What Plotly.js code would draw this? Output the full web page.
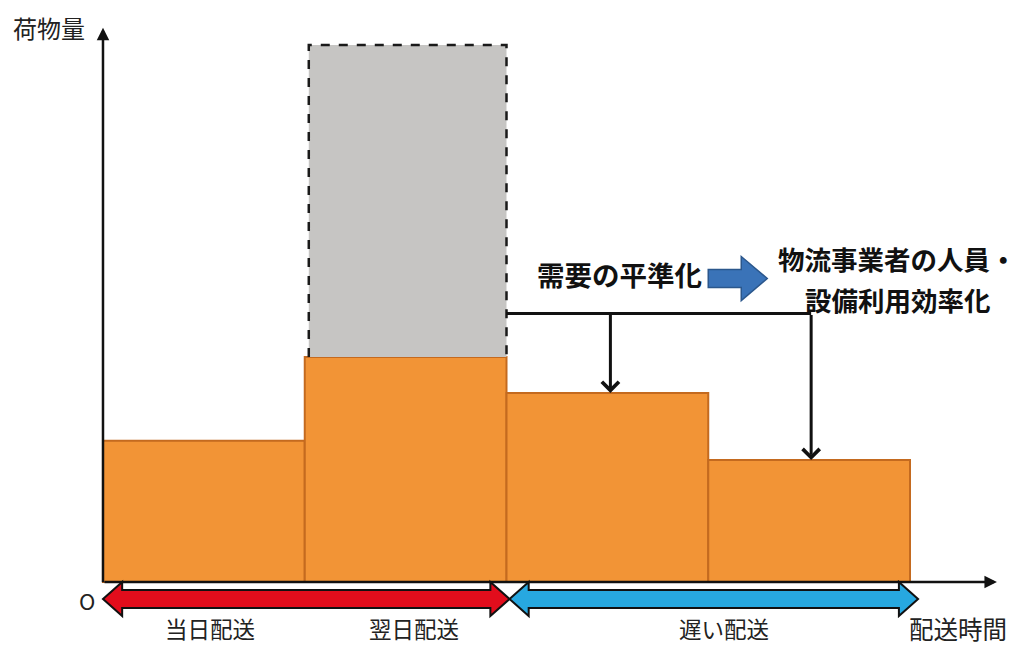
<!DOCTYPE html>
<html>
<head>
<meta charset="utf-8">
<script src="https://cdn.plot.ly/plotly-3.0.1.min.js"></script>
<style>html,body{margin:0;padding:0;background:#fff;}#chart{width:1018px;height:647px;}</style>
</head>
<body>
<div id="chart"></div>
<script>
// ---- data ----
const slotIndex = [0, 1, 2, 3];                 // delivery-time slots
const loadSmoothed = [26.3, 41.9, 35.2, 22.7];  // 荷物量 (after smoothing)
const peakSlot = 1;                             // 翌日配送 peak slot
const peakBefore = 100;                         // 荷物量 before smoothing
const smoothLevel = 50;                         // level of the smoothing bracket
const groupLabels = ['当日配送', '翌日配送', '遅い配送'];
const groupSpans = [[0, 1], [1, 2], [2, 4]];    // slots covered by each label
const yTitle = '荷物量';
const xTitle = '配送時間';
const originLabel = 'O';
const effectLabel = '需要の平準化';
const resultLines = ['物流事業者の人員・', '設備利用効率化'];

// ---- scales ----
const xRange = [-0.5105, 4.5353];
const yRange = [-12.10, 108.38];
const FONT = '"Noto Sans CJK JP", "Noto Sans", sans-serif';

const barTrace = {
  type: 'bar',
  x: slotIndex.map(i => i + 0.5),
  y: loadSmoothed,
  width: slotIndex.map(() => 1),
  marker: {color: '#F29436', line: {color: '#C46A1F', width: 2}},
  hoverinfo: 'y'
};

const px0 = peakSlot + 0.02, px1 = peakSlot + 1;
const base = loadSmoothed[peakSlot];
const peakTrace = {
  type: 'scatter', mode: 'lines',
  x: [px0, px0, px1, px1],
  y: [base, peakBefore, peakBefore, base],
  fill: 'toself', fillcolor: '#C6C5C3',
  line: {color: '#1a1a1a', width: 2.5, dash: 'dash'},
  hoverinfo: 'skip'
};

function doubleArrow(x0, x1, color) {
  const h = 0.095; // head length (x units)
  const c = -17, bh = 9, hh = 17;
  const p = `M ${x0},${c} L ${x0 + h},${c + hh} L ${x0 + h},${c + bh} L ${x1 - h},${c + bh} L ${x1 - h},${c + hh} L ${x1},${c} L ${x1 - h},${c - hh} L ${x1 - h},${c - bh} L ${x0 + h},${c - bh} L ${x0 + h},${c - hh} Z`;
  return {type: 'path', xref: 'x', yref: 'y', ysizemode: 'pixel', yanchor: 0,
    path: p, fillcolor: color, line: {color: '#111', width: 2}, layer: 'above'};
}

const shapes = [
  doubleArrow(groupSpans[0][0], groupSpans[1][1] + 0.015, '#E20D1C'),
  doubleArrow(groupSpans[2][0] + 0.015, groupSpans[2][1] + 0.04, '#27A8E0'),
  // bracket line
  {type: 'line', xref: 'x', yref: 'y', x0: px1, x1: 3.5 + 0.01, y0: smoothLevel, y1: smoothLevel,
   line: {color: '#111', width: 3}},
  // blue block arrow
  {type: 'path', xref: 'x', yref: 'y', xsizemode: 'pixel', ysizemode: 'pixel', xanchor: 3.0, yanchor: smoothLevel,
   path: 'M 0,44 L 33,44 L 33,57 L 59,35 L 33,13 L 33,26 L 0,26 Z',
   fillcolor: '#3A73B8', line: {color: '#2B578C', width: 1.5}}
];

const annotations = [
  // axes
  {x: 0, y: 103.2, ax: 0, ay: -0.3, axref: 'x', ayref: 'y', xref: 'x', yref: 'y', text: '',
   showarrow: true, arrowhead: 2, arrowsize: 1, arrowwidth: 2.5, arrowcolor: '#111', standoff: 0},
  {x: 4.431, y: 0, ax: 0, ay: 0, axref: 'x', ayref: 'y', xref: 'x', yref: 'y', text: '',
   showarrow: true, arrowhead: 2, arrowsize: 1, arrowwidth: 2.5, arrowcolor: '#111', standoff: 0},
  // smoothing arrows
  {x: 2.515, y: loadSmoothed[2], ax: 2.515, ay: smoothLevel, axref: 'x', ayref: 'y', xref: 'x', yref: 'y', text: '',
   showarrow: true, arrowhead: 4, arrowsize: 1.1, arrowwidth: 3, arrowcolor: '#111', standoff: 0},
  {x: 3.51, y: loadSmoothed[3], ax: 3.51, ay: smoothLevel, axref: 'x', ayref: 'y', xref: 'x', yref: 'y', text: '',
   showarrow: true, arrowhead: 4, arrowsize: 1.1, arrowwidth: 3, arrowcolor: '#111', standoff: 0},
  // texts
  {x: -0.455, y: 103.2, xref: 'x', yref: 'y', xanchor: 'left', yanchor: 'middle', text: yTitle, showarrow: false,
   font: {family: FONT, size: 24, color: '#222'}},
  {x: -0.078, y: -3.3, xref: 'x', yref: 'y', xanchor: 'center', yanchor: 'middle', text: originLabel, showarrow: false,
   font: {family: FONT, size: 22, color: '#222'}},
  {x: 4.24, y: -8.6, xref: 'x', yref: 'y', xanchor: 'center', yanchor: 'middle', text: xTitle, showarrow: false,
   font: {family: FONT, size: 24.5, color: '#222'}},
  {x: 2.56, y: 57.4, xref: 'x', yref: 'y', xanchor: 'center', yanchor: 'middle', text: '<b>' + effectLabel + '</b>', showarrow: false,
   font: {family: FONT, size: 27.5, color: '#111'}},
  {x: 3.94, y: 56.42, xref: 'x', yref: 'y', xanchor: 'center', yanchor: 'bottom', borderpad: 0,
   text: '<b>' + resultLines[0] + '</b>', showarrow: false,
   font: {family: FONT, size: 26.5, color: '#111'}},
  {x: 3.94, y: 56.42, xref: 'x', yref: 'y', xanchor: 'center', yanchor: 'top', borderpad: 0,
   text: '<b>' + resultLines[1] + '</b>', showarrow: false,
   font: {family: FONT, size: 26.5, color: '#111'}}
];
const groupLabelX = [0.53, 1.54, 3.08];
groupLabels.forEach((t, i) => annotations.push({
  x: groupLabelX[i], y: -8.6, xref: 'x', yref: 'y', xanchor: 'center', yanchor: 'middle', text: t, showarrow: false,
  font: {family: FONT, size: 22.5, color: '#222'}
}));

const layout = {
  width: 1018, height: 647,
  margin: {l: 0, r: 0, t: 0, b: 0},
  paper_bgcolor: '#fff', plot_bgcolor: '#fff',
  showlegend: false, bargap: 0,
  xaxis: {range: xRange, visible: false, fixedrange: true},
  yaxis: {range: yRange, visible: false, fixedrange: true},
  shapes: shapes,
  annotations: annotations
};

Plotly.newPlot('chart', [barTrace, peakTrace], layout, {displayModeBar: false, staticPlot: true});
</script>
</body>
</html>
